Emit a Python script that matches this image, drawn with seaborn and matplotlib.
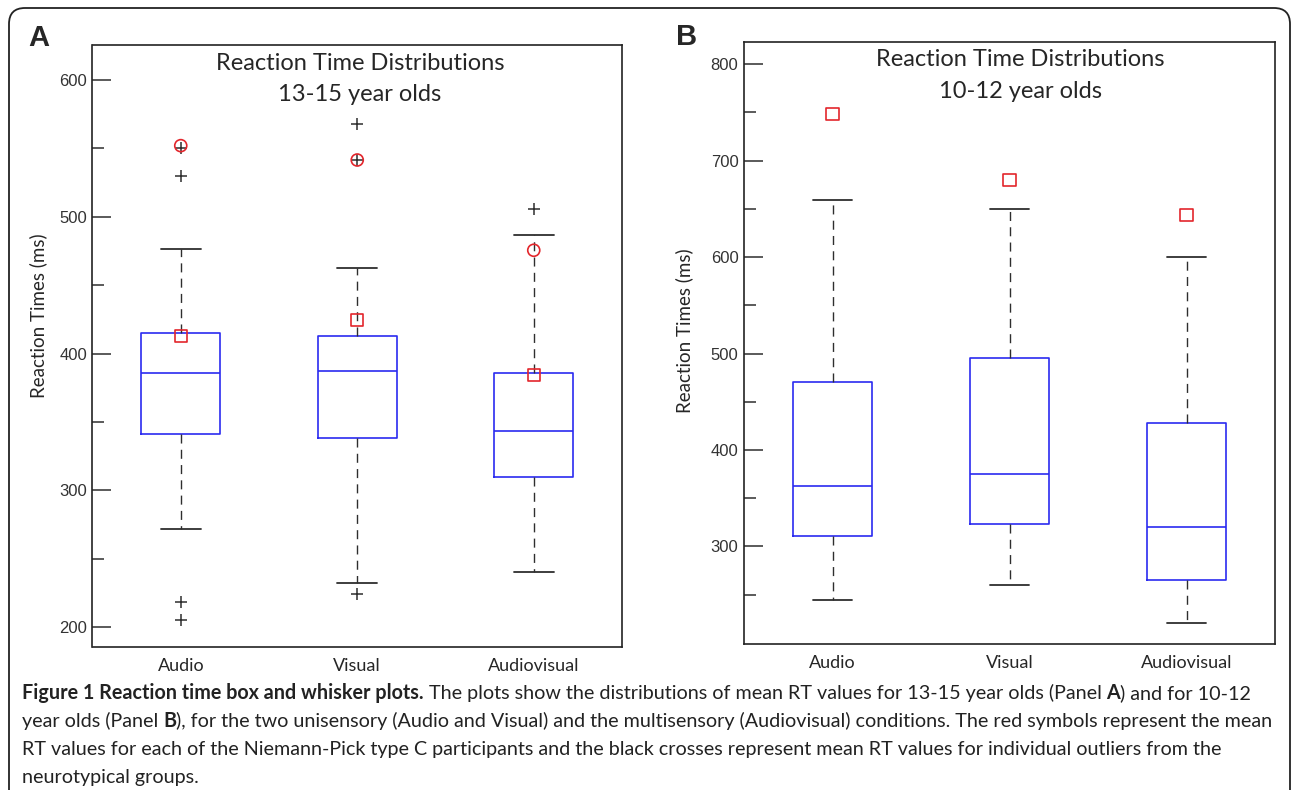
import numpy as np
import pandas as pd
import matplotlib
matplotlib.use("Agg")
import matplotlib.pyplot as plt
import seaborn as sns
from matplotlib.patches import FancyBboxPatch

# conditions shown on both panels
conds = ['Audio', 'Visual', 'Audiovisual']

# Panel A: 13-15 year olds (whisker low, Q1, median, Q3, whisker high)
a_low = [272, 232, 240]
a_q1 = [341.5, 338.5, 310]
a_med = [386, 387, 343]
a_q3 = [415, 413, 386]
a_high = [476.5, 462.5, 486.5]
# black crosses = neurotypical outliers
a_cross_cond = ['Audio', 'Audio', 'Audio', 'Audio', 'Visual', 'Visual', 'Visual', 'Audiovisual']
a_cross_val = [550, 530, 218.5, 205, 568, 541.5, 224, 505.5]
# red symbols = NPC participants
a_circle_cond = ['Audio', 'Visual', 'Audiovisual']
a_circle_val = [552, 541.5, 475.5]
a_square_cond = ['Audio', 'Visual', 'Audiovisual']
a_square_val = [412.5, 424.5, 384]

# Panel B: 10-12 year olds
b_low = [244.5, 259.5, 220]
b_q1 = [311, 323.5, 265.5]
b_med = [362.5, 375.5, 320]
b_q3 = [470, 495, 427.5]
b_high = [659, 650, 600]
b_square_cond = ['Audio', 'Visual', 'Audiovisual']
b_square_val = [748, 680, 643.5]

BLUE = '#2b2bf0'
RED = '#e3262c'
GRAY = '#2e2e2e'
W, H = 1292, 790

sns.set_style('white')
plt.rcParams['font.family'] = ['Lato', 'DejaVu Sans']


def summary_frame(low, q1, med, q3, high):
    # five values per condition so the quartiles land exactly on Q1 / median / Q3
    rows = []
    for i, c in enumerate(conds):
        for v in (low[i], q1[i], med[i], q3[i], high[i]):
            rows.append({'cond': c, 'rt': v})
    return pd.DataFrame(rows)


def pos(cs):
    return [conds.index(c) for c in cs]


def draw_panel(ax, df, ylim, majors, minors, title2, tx):
    sns.boxplot(data=df, x='cond', y='rt', order=conds, ax=ax, whis=(0, 100),
                width=0.45, fill=False, color=BLUE, linewidth=1.2, showfliers=False,
                whiskerprops=dict(color=GRAY, linestyle=(0, (6.5, 4.5)), linewidth=1.0),
                capprops=dict(color=GRAY, linewidth=1.3),
                medianprops=dict(color=BLUE, linewidth=1.2))
    ax.set_xlim(-0.5, 2.5)
    ax.set_ylim(*ylim)
    ax.set_yticks(majors)
    ax.set_yticks(minors, minor=True)
    ax.set_yticklabels([str(m) for m in majors], family='Liberation Sans', fontsize=12, color='#333333')
    ax.set_xticks(range(3))
    ax.set_xticklabels(conds, fontsize=13)
    ax.tick_params(axis='y', which='major', direction='in', length=14, width=1.1, color=GRAY,
                   pad=4, left=True, right=False)
    ax.tick_params(axis='y', which='minor', direction='in', length=8.5, width=1.1, color=GRAY,
                   left=True, right=False)
    ax.tick_params(axis='x', length=0, pad=8)
    for s in ax.spines.values():
        s.set_visible(True)
        s.set_color('#222222')
        s.set_linewidth(1.2)
    ax.set_xlabel('')
    ax.set_ylabel('Reaction Times (ms)', fontsize=13.5)
    ax.text(tx, 0.970, 'Reaction Time Distributions', transform=ax.transAxes,
            ha='center', va='center', fontsize=17)
    ax.text(tx, 0.917, title2, transform=ax.transAxes,
            ha='center', va='center', fontsize=17)


fig = plt.figure(figsize=(W / 100, H / 100), dpi=100)

# Panel A
axA = fig.add_axes([92.5 / W, 1 - 647 / H, 529.5 / W, 602 / H])
draw_panel(axA, summary_frame(a_low, a_q1, a_med, a_q3, a_high), (185.4, 625.6),
           [200, 300, 400, 500, 600], [250, 350, 450, 550], '13-15 year olds', 0.505)
sns.scatterplot(x=pos(a_cross_cond), y=a_cross_val, marker='+', color=GRAY, s=80,
                linewidth=1.1, ax=axA, legend=False, zorder=5)
sns.scatterplot(x=pos(a_circle_cond), y=a_circle_val, marker='o', s=75, facecolor='none',
                edgecolor=RED, linewidth=1.2, ax=axA, legend=False, zorder=6)
sns.scatterplot(x=pos(a_square_cond), y=a_square_val, marker='s', s=75, facecolor='none',
                edgecolor=RED, linewidth=1.2, ax=axA, legend=False, zorder=6)
axA.yaxis.set_label_coords(-0.085, 0.55)

# Panel B
axB = fig.add_axes([744 / W, 1 - 644 / H, 531 / W, 602.3 / H])
draw_panel(axB, summary_frame(b_low, b_q1, b_med, b_q3, b_high), (198.7, 823.4),
           [300, 400, 500, 600, 700, 800], [250, 350, 450, 550, 650, 750], '10-12 year olds', 0.52)
sns.scatterplot(x=pos(b_square_cond), y=b_square_val, marker='s', s=75, facecolor='none',
                edgecolor=RED, linewidth=1.2, ax=axB, legend=False, zorder=6)
axB.yaxis.set_label_coords(-0.095, 0.52)

# panel letters
fig.text(28 / W, 1 - 38 / H, 'A', fontsize=21, fontweight='bold', family='Liberation Sans', va='center')
fig.text(676 / W, 1 - 37 / H, 'B', fontsize=21, fontweight='bold', family='Liberation Sans', va='center')

# rounded frame around the figure
frame = FancyBboxPatch((9, -30), 1281, H - 8 + 30, boxstyle='round,pad=0,rounding_size=16',
                       transform=None, facecolor='none', edgecolor='#222222', linewidth=1.3)
fig.patches.append(frame)

# caption, drawn run by run so bold pieces sit inline
cap_fam = ['Lato', 'DejaVu Sans']
cap_lines = [
    [('Figure 1 Reaction time box and whisker plots.', 'bold'),
     (' The plots show the distributions of mean RT values for 13-15 year olds (Panel ', 'normal'),
     ('A', 'bold'), (') and for 10-12', 'normal')],
    [('year olds (Panel ', 'normal'), ('B', 'bold'),
     ('), for the two unisensory (Audio and Visual) and the multisensory (Audiovisual) conditions. The red symbols represent the mean', 'normal')],
    [('RT values for each of the Niemann-Pick type C participants and the black crosses represent mean RT values for individual outliers from the', 'normal')],
    [('neurotypical groups.', 'normal')],
]
cap_y = [693, 721, 749, 777]
renderer = fig.canvas.get_renderer()
for parts, yy in zip(cap_lines, cap_y):
    x = 22
    for s, wgt in parts:
        t = fig.text(x / W, 1 - yy / H, s, fontsize=14.2, fontweight=wgt, family=cap_fam,
                     va='center', ha='left', color='#222222')
        x += t.get_window_extent(renderer=renderer).width

fig.savefig('out.png', dpi=100)
